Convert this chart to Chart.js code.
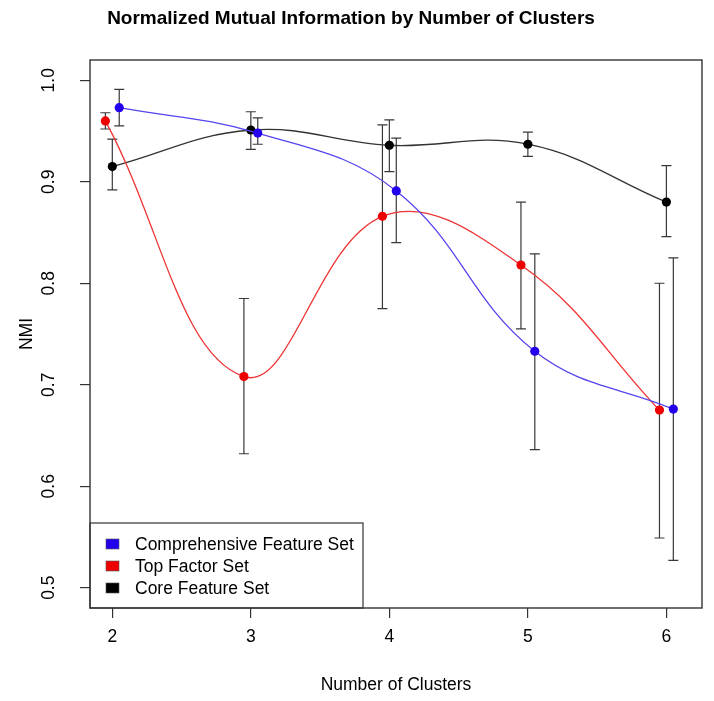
<!DOCTYPE html>
<html>
<head>
<meta charset="utf-8">
<script src="https://cdn.jsdelivr.net/npm/chart.js@4/dist/chart.umd.min.js"></script>
<style>
  html, body { margin: 0; padding: 0; background: #fff; }
  #wrap { width: 714px; height: 701px; }
</style>
</head>
<body>
<div id="wrap"><canvas id="nmiChart" width="714" height="701"></canvas></div>
<script>
// NMI by number of clusters, three feature sets, with error bars

const clusters = [2, 3, 4, 5, 6];
const xTicks = [2, 3, 4, 5, 6];
const yTicks = [0.5, 0.6, 0.7, 0.8, 0.9, 1.0];

const seriesNames = ['Comprehensive Feature Set', 'Top Factor Set', 'Core Feature Set'];

const comprehensive = [0.973, 0.948, 0.891, 0.733, 0.676];
const comprehensiveLow = [0.955, 0.937, 0.840, 0.636, 0.527];
const comprehensiveHigh = [0.991, 0.963, 0.943, 0.829, 0.825];

const topFactor = [0.960, 0.708, 0.866, 0.818, 0.675];
const topFactorLow = [0.952, 0.632, 0.775, 0.755, 0.549];
const topFactorHigh = [0.968, 0.785, 0.956, 0.880, 0.800];

const core = [0.915, 0.951, 0.936, 0.937, 0.880];
const coreLow = [0.892, 0.932, 0.910, 0.925, 0.846];
const coreHigh = [0.942, 0.969, 0.961, 0.949, 0.916];

// points are dodged a little so the bars do not overlap
const dodge = [0.05, -0.05, 0];
const pointColors = ['#2200ee', '#ee0000', '#000000'];
const lineColors = ['#5544ee', '#ee3333', '#333333'];

const values = [comprehensive, topFactor, core];
const lows = [comprehensiveLow, topFactorLow, coreLow];
const highs = [comprehensiveHigh, topFactorHigh, coreHigh];

const FONT = '"Liberation Sans", Arial, Helvetica, sans-serif';

function buildDatasets() {
    return values.map(function (vals, s) {
        return {
            label: seriesNames[s],
            data: clusters.map(function (c, i) { return { x: c + dodge[s], y: vals[i] }; }),
            borderColor: lineColors[s],
            borderWidth: 1.3,
            backgroundColor: pointColors[s],
            pointBackgroundColor: pointColors[s],
            pointBorderWidth: 0,
            pointRadius: 4.6,
            tension: 0.4,
            fill: false
        };
    });
}

// error bars, frame, rotated y tick labels and the boxed legend
const rStylePlugin = {
    id: 'rStyle',
    beforeDatasetsDraw(chart) {
        const ctx = chart.ctx;
        const x = chart.scales.x, y = chart.scales.y;
        ctx.save();
        ctx.strokeStyle = '#383838';
        ctx.lineWidth = 1.2;
        values.forEach(function (vals, s) {
            clusters.forEach(function (c, i) {
                const px = x.getPixelForValue(c + dodge[s]);
                const top = y.getPixelForValue(highs[s][i]);
                const bot = y.getPixelForValue(lows[s][i]);
                ctx.beginPath();
                ctx.moveTo(px, top); ctx.lineTo(px, bot);
                ctx.moveTo(px - 5, top); ctx.lineTo(px + 5, top);
                ctx.moveTo(px - 5, bot); ctx.lineTo(px + 5, bot);
                ctx.stroke();
            });
        });
        ctx.restore();
    },
    afterDraw(chart) {
        const ctx = chart.ctx;
        const area = chart.chartArea;
        const y = chart.scales.y;
        ctx.save();

        // y tick labels, rotated like base R
        ctx.fillStyle = '#000';
        ctx.font = '17.5px ' + FONT;
        ctx.textAlign = 'center';
        ctx.textBaseline = 'middle';
        yTicks.forEach(function (v) {
            const py = y.getPixelForValue(v);
            ctx.save();
            ctx.translate(49, py);
            ctx.rotate(-Math.PI / 2);
            ctx.fillText(v.toFixed(1), 0, 0);
            ctx.restore();
        });

        // legend box in the bottom left corner
        const lx = area.left, ly = area.bottom - 85, lw = 273, lh = 85;
        ctx.fillStyle = '#fff';
        ctx.fillRect(lx, ly, lw, lh);
        ctx.strokeStyle = '#333';
        ctx.lineWidth = 1.2;
        ctx.strokeRect(lx, ly, lw, lh);
        ctx.textAlign = 'left';
        seriesNames.forEach(function (name, s) {
            const cy = ly + 21 + s * 22;
            ctx.fillStyle = pointColors[s];
            ctx.fillRect(lx + 16, cy - 5, 13, 10);
            ctx.strokeStyle = '#555';
            ctx.lineWidth = 0.6;
            ctx.strokeRect(lx + 16, cy - 5, 13, 10);
            ctx.fillStyle = '#000';
            ctx.fillText(name, lx + 45, cy + 1);
        });

        // plot frame
        ctx.strokeStyle = '#333';
        ctx.lineWidth = 1.4;
        ctx.strokeRect(area.left, area.top, area.right - area.left, area.bottom - area.top);
        ctx.restore();
    }
};

document.addEventListener('DOMContentLoaded', function () {
    const ctx = document.getElementById('nmiChart').getContext('2d');

    new Chart(ctx, {
        type: 'line',
        data: { datasets: buildDatasets() },
        plugins: [rStylePlugin],
        options: {
            responsive: false,
            animation: false,
            devicePixelRatio: 1,
            layout: { padding: { top: 0, right: 12, bottom: 0, left: 0 } },
            plugins: {
                legend: { display: false },
                tooltip: { enabled: false },
                title: {
                    display: true,
                    text: 'Normalized Mutual Information by Number of Clusters',
                    color: '#000',
                    font: { family: FONT, size: 19, weight: 'bold' },
                    padding: { top: 7, bottom: 30.2 }
                }
            },
            scales: {
                x: {
                    type: 'linear',
                    min: 1.839,
                    max: 6.257,
                    afterBuildTicks: function (scale) {
                        scale.ticks = xTicks.map(function (v) { return { value: v }; });
                    },
                    afterFit: function (scale) { scale.height = 93; },
                    border: { display: false },
                    grid: { drawOnChartArea: false, drawTicks: true, tickLength: 10, color: '#333', lineWidth: 1.2 },
                    ticks: { color: '#000', font: { family: FONT, size: 17.5 }, padding: 9, maxRotation: 0 },
                    title: {
                        display: true,
                        text: 'Number of Clusters',
                        color: '#000',
                        font: { family: FONT, size: 17.5 },
                        padding: { top: 0, bottom: 5 }
                    }
                },
                y: {
                    min: 0.48,
                    max: 1.02,
                    afterBuildTicks: function (scale) {
                        scale.ticks = yTicks.map(function (v) { return { value: v }; });
                    },
                    afterFit: function (scale) { scale.width = 90; },
                    border: { display: false },
                    grid: { drawOnChartArea: false, drawTicks: true, tickLength: 10, color: '#333', lineWidth: 1.2 },
                    ticks: { display: false },
                    title: {
                        display: true,
                        text: 'NMI',
                        color: '#000',
                        font: { family: FONT, size: 17.5 },
                        padding: { top: 17, bottom: 0 }
                    }
                }
            }
        }
    });
});
</script>
</body>
</html>
